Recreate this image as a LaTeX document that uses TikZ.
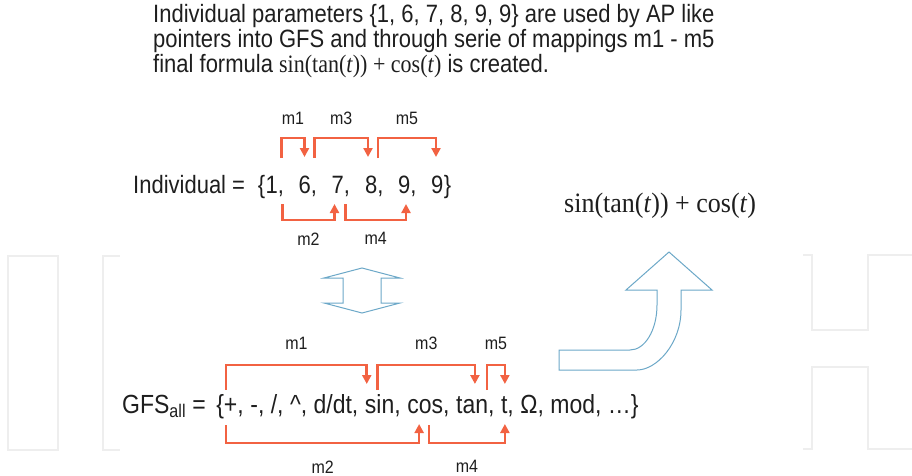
\documentclass[tikz,border=0pt]{standalone}
\usepackage{fontspec}
\setmainfont{Liberation Sans}
\newfontfamily\formfont{Liberation Serif}
\usetikzlibrary{arrows.meta,positioning}
\definecolor{mapred}{RGB}{242,98,66}
\definecolor{hollowblue}{RGB}{108,168,200}
\definecolor{inkgray}{RGB}{30,30,30}
\definecolor{markgray}{RGB}{238,238,238}

\begin{document}
\begin{tikzpicture}[x=1pt, y=1pt, >={Triangle[length=9pt,width=9pt]},
  txt/.style={inner sep=0pt, text=inkgray, yscale=1.14, font=\fontsize{22}{25}\selectfont},
  gfstxt/.style={txt, font=\fontsize{23}{26}\selectfont},
  lbl/.style={inner sep=0pt, text=inkgray, yscale=1.12, font=\fontsize{16}{18}\selectfont},
  map/.style={draw=mapred, line width=2.7pt, ->},
  hollow/.style={draw=hollowblue, line width=1pt, fill=white, line join=miter},
  wmark/.style={draw=markgray, line width=2pt}]
  \useasboundingbox (0,0) rectangle (912,-476);

  % faint watermark
  \draw[wmark] (8,-256) rectangle (58,-450);
  \draw[wmark] (120,-256) -- (103,-256) -- (103,-450) -- (120,-450);
  \draw[wmark] (803,-255) -- (812,-255) -- (812,-330) -- (868,-330) -- (868,-255) -- (912,-255);
  \draw[wmark] (803,-449) -- (812,-449) -- (812,-367) -- (868,-367) -- (868,-449) -- (912,-449);

  % description
  \node[txt, anchor=base west] (desc1) at (153,-23) {Individual parameters \{1, 6, 7, 8, 9, 9\} are used by AP like};
  \node[txt, anchor=base west] (desc2) at (153,-48) {pointers into GFS and through serie of mappings m1 - m5};
  \node[txt, anchor=base west] (desc3) at (153,-73) {final formula {\formfont sin(tan(\textit{t})) + cos(\textit{t})} is created.};

  % individual
  \node[txt, anchor=base west] (ind) at (133,-193) {Individual =};
  \node[txt, anchor=base west] (v1) at (265.5,-193) {1,};
  \node[txt, base left=0pt of v1] (lbr) {\{};
  \node[txt, anchor=base west] (v2) at (298.5,-193) {6,};
  \node[txt, anchor=base west] (v3) at (331.5,-193) {7,};
  \node[txt, anchor=base west] (v4) at (365,-193) {8,};
  \node[txt, anchor=base west] (v5) at (398,-193) {9,};
  \node[txt, anchor=base west] (v6) at (431,-193) {9};
  \node[txt, base right=0pt of v6] (rbr) {\}};

  \draw[map] ([shift={(16,35)}]v1.base west) -- ++(0,20) -| node[lbl, pos=0.25, above=12pt] {m1} ([shift={(6,36)}]v2.base west);
  \draw[map] ([shift={(16,35)}]v2.base west) -- ++(0,20) -| node[lbl, pos=0.25, above=12pt] {m3} ([shift={(3,36)}]v4.base west);
  \draw[map] ([shift={(13,35)}]v4.base west) -- ++(0,20) -| node[lbl, pos=0.25, above=12pt] {m5} ([shift={(5,36)}]v6.base west);
  \draw[map] ([shift={(17,-11)}]v1.base west) -- ++(0,-16) -| node[lbl, pos=0.25, below=11pt] {m2} ([shift={(3,-11)}]v3.base west);
  \draw[map] ([shift={(14,-11)}]v3.base west) -- ++(0,-16) -| node[lbl, pos=0.25, below=11pt] {m4} ([shift={(8,-11)}]v5.base west);

  % result
  \node[inner sep=0pt, anchor=base west, text=inkgray, yscale=1.08, font={\fontsize{26}{29}\formfont}] (formula) at (564,-212) {sin(tan(\textit{t})) + cos(\textit{t})};

  % GFS
  \node[gfstxt, anchor=base west] (gfs) at (122,-413) {GFS\textsubscript{all} =};
  \node[gfstxt, base right=10pt of gfs] (gplus) {\{+,};
  \node[gfstxt, base right=6.2pt of gplus] (gmid) {-, /, \textasciicircum, d/dt,};
  \node[gfstxt, base right=6.2pt of gmid] (gsin) {sin,};
  \node[gfstxt, base right=6.2pt of gsin] (gcos) {cos,};
  \node[gfstxt, base right=6.2pt of gcos] (gtan) {tan,};
  \node[gfstxt, base right=6.2pt of gtan] (gt) {t,};
  \node[gfstxt, base right=6.2pt of gt] (gend) {Ω, mod, …\}};

  \draw[map] ([shift={(10,23)}]gplus.base west) -- ++(0,25) -| node[lbl, pos=0.25, above=14pt] {m1} ([shift={(2,29)}]gsin.base west);
  \draw[map] ([shift={(13,23)}]gsin.base west) -- ++(0,25) -| node[lbl, pos=0.25, above=14pt] {m3} ([shift={(19,29)}]gtan.base west);
  \draw[map] ([shift={(31,23)}]gtan.base west) -- ++(0,25) -| node[lbl, pos=0.25, above=14pt] {m5} ([shift={(4,29)}]gt.base west);
  \draw[map] ([shift={(10,-12)}]gplus.base west) -- ++(0,-18) -| node[lbl, pos=0.25, below=16pt] {m2} ([shift={(12,-11)}]gcos.base west);
  \draw[map] ([shift={(22,-12)}]gcos.base west) -- ++(0,-18) -| node[lbl, pos=0.25, below=16pt] {m4} ([shift={(4,-11)}]gt.base west);

  % hollow arrows
  \draw[hollow] (362,-268) -- (400,-278) -- (381,-278) -- (381,-303) -- (400,-303) -- (362,-313)
    -- (324,-303) -- (343,-303) -- (343,-278) -- (324,-278) -- cycle;
  \draw[hollow] (559,-350) -- (630,-350) .. controls (645,-350) and (657,-330) .. (657,-305)
    -- (657,-290) -- (626,-290) -- (669,-252) -- (712,-290) -- (681,-290) -- (681,-310)
    .. controls (681,-343) and (657,-370) .. (637,-370) -- (559,-370) -- cycle;
\end{tikzpicture}
\end{document}
